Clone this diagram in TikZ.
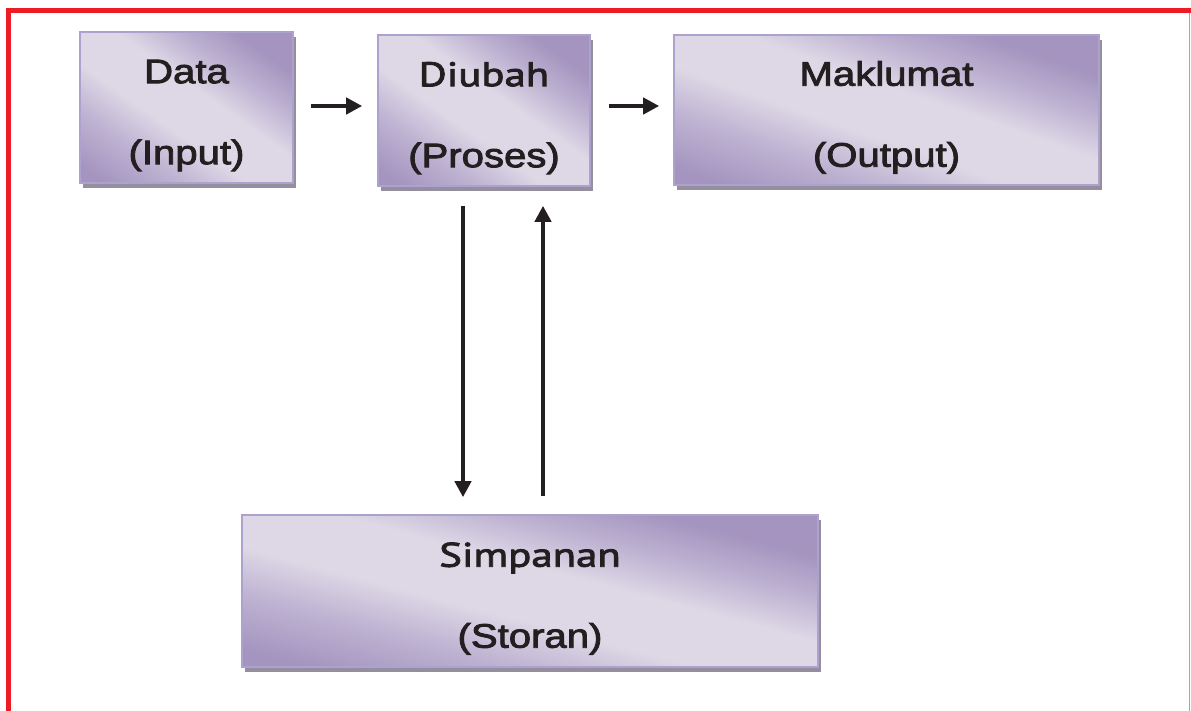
\documentclass[tikz,border=0pt]{standalone}
\usepackage{fontspec}
\setmainfont{Liberation Sans}[FakeStretch=1.18, FakeBold=2.6]
\newfontfamily\humfont{PT Sans}[FakeStretch=1.26, FakeBold=2.6]
\usetikzlibrary{arrows.meta,shadows}

\definecolor{pdark}{RGB}{164,148,191}
\definecolor{pmid}{RGB}{190,179,210}
\definecolor{plight}{RGB}{222,216,230}
\definecolor{pborder}{RGB}{172,162,206}
\definecolor{shadowgray}{RGB}{148,142,158}
\definecolor{framered}{RGB}{237,28,36}
\definecolor{framepink}{RGB}{232,138,138}
\definecolor{inkblack}{RGB}{35,31,32}

% lilac sheen; the span 25bp..75bp runs from the lower-left corner to the upper-right corner
\pgfdeclarehorizontalshading{lilac}{100bp}{%
  color(0bp)=(pdark); color(28bp)=(pdark); color(37bp)=(pmid);
  color(45bp)=(plight); color(54bp)=(plight); color(61bp)=(pmid);
  color(68bp)=(pdark); color(100bp)=(pdark)}

% two text lines, 81pt apart, centred so that the baselines sit evenly in the box
\newcommand\twolines[2]{\rule{0pt}{45pt}#1\\#2\rule[-12.6pt]{0pt}{12.6pt}}

\tikzset{
  % #1: direction of the sheen, #2: half reach along it, #3: half reach across it
  box/.style n args={3}{rectangle, draw=pborder, line width=1.6pt, inner sep=0pt,
    fill=plight,
    path picture={
      \begin{scope}[transform canvas={rotate around={#1:(path picture bounding box.center)}}]
        \shade[shading=lilac]
          ([shift={(-#2,-#3)}]path picture bounding box.center)
          rectangle ([shift={(#2,#3)}]path picture bounding box.center);
      \end{scope}},
    drop shadow={shadow xshift=3pt, shadow yshift=-5pt, fill=shadowgray, opacity=1},
    align=center, text=inkblack, font=\fontsize{34}{81}\selectfont},
  flow/.style={draw=inkblack, line width=4.4pt,
    -{Triangle[length=16pt,width=16pt]}}
}

\begin{document}
\begin{tikzpicture}[x=1pt,y=-1pt]
  \useasboundingbox (0,0) rectangle (1191,711);

  % frame
  \draw[framered, line width=5pt] (6,10.5) -- (1191,10.5);
  \draw[framered, line width=5pt] (8.5,8) -- (8.5,711);
  \draw[framepink, line width=1.3pt] (1189.3,13) -- (1189.3,711);

  % stages
  \node[box={54.7}{124}{134}, minimum width=213pt, minimum height=151pt] (data) at (186.5,107.5)
    {\twolines{Data}{(Input)}};
  \node[box={54.5}{124}{134}, minimum width=212pt, minimum height=151pt] (diubah) at (484,110.5)
    {\humfont\twolines{Diubah}{(Proses)}};
  \node[box={70.6}{142}{230}, minimum width=425pt, minimum height=150pt] (maklumat) at (886.5,110)
    {\twolines{Maklumat}{(Output)}};
  \node[box={75.2}{148}{302}, minimum width=576pt, minimum height=152pt] (simpanan) at (530,591)
    {\humfont\twolines{Simpanan}{(Storan)}};

  % flow of data
  \draw[flow, shorten <=17pt, shorten >=15pt]
    ([yshift=1.5pt]data.east) -- ([yshift=1.5pt]data.east -| diubah.west);
  \draw[flow, shorten <=18pt, shorten >=14pt]
    ([yshift=4.5pt]diubah.east) -- ([yshift=4.5pt]diubah.east -| maklumat.west);
  \draw[flow, shorten <=19pt, shorten >=17pt]
    ([xshift=-21pt]diubah.south) -- ([xshift=-21pt]diubah.south |- simpanan.north);
  \draw[flow, shorten <=18pt, shorten >=19pt]
    ([xshift=59pt]diubah.south |- simpanan.north) -- ([xshift=59pt]diubah.south);
\end{tikzpicture}
\end{document}
